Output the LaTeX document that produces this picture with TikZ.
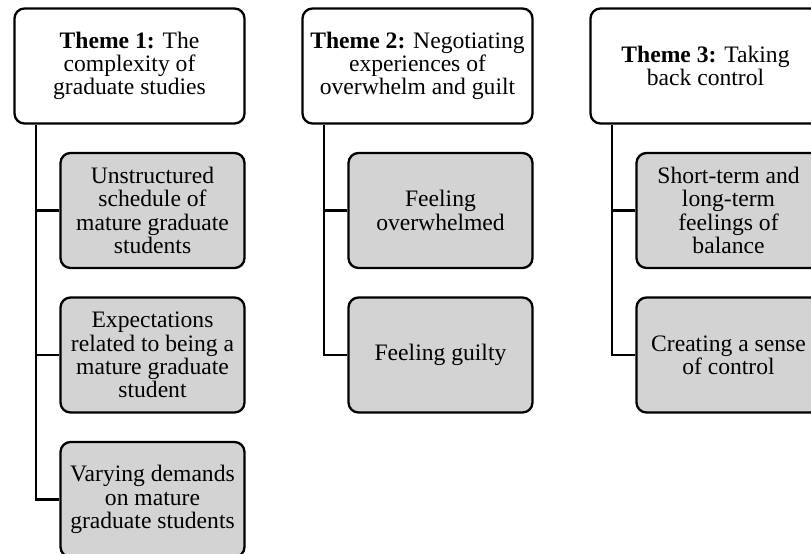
\documentclass[tikz,border=0pt]{standalone}
\usepackage{fontspec}
\setmainfont{Liberation Serif}
\usetikzlibrary{calc}
\definecolor{boxgray}{RGB}{211,211,211}
\tikzset{
  themebox/.style={draw=black, line width=2.3pt, rounded corners=10pt, fill=white,
    minimum width=230pt, minimum height=115pt, inner sep=0pt, align=center,
    font=\fontsize{23.6}{23.2}\selectfont},
  subbox/.style={draw=black, line width=2.3pt, rounded corners=10pt, fill=boxgray,
    minimum width=184pt, minimum height=115pt, inner sep=0pt, align=center,
    font=\fontsize{23.6}{23.2}\selectfont},
  link/.style={draw=black, line width=2.2pt}
}
\begin{document}
\begin{tikzpicture}[x=1pt,y=-1pt]
\useasboundingbox (0,0) rectangle (811,554);
\clip (0,0) rectangle (811,554);
\fill[white] (0,0) rectangle (811,554);
% Theme 1
\node[themebox] (T1) at (129.5,66) {\textbf{Theme 1:} The\\complexity of\\graduate studies};
\node[subbox] (C11) at (152.5,210.5) {Unstructured\\schedule of\\mature graduate\\students};
\node[subbox] (C12) at (152.5,355) {Expectations\\related to being a\\mature graduate\\student};
\node[subbox] (C13) at (152.5,499.5) {Varying demands\\on mature\\graduate students};
% Theme 2
\node[themebox] (T2) at (417.5,66) {\textbf{Theme 2:} Negotiating\\experiences of\\overwhelm and guilt};
\node[subbox] (C21) at (440.5,210.5) {Feeling\\overwhelmed};
\node[subbox] (C22) at (440.5,355) {Feeling guilty};
% Theme 3
\node[themebox] (T3) at (705.5,66) {\textbf{Theme 3:} Taking\\back control};
\node[subbox] (C31) at (728.5,210.5) {Short-term and\\long-term\\feelings of\\balance};
\node[subbox] (C32) at (728.5,355) {Creating a sense\\of control};
% connectors
\coordinate (v1) at ($(T1.south west)!0.5!(C11.west |- T1.south)$);
\coordinate (v2) at ($(T2.south west)!0.5!(C21.west |- T2.south)$);
\coordinate (v3) at ($(T3.south west)!0.5!(C31.west |- T3.south)$);
\draw[link] (v1) |- (C11.west);
\draw[link] (v1) |- (C12.west);
\draw[link] (v1) |- (C13.west);
\draw[link] (v2) |- (C21.west);
\draw[link] (v2) |- (C22.west);
\draw[link] (v3) |- (C31.west);
\draw[link] (v3) |- (C32.west);
\end{tikzpicture}
\end{document}
